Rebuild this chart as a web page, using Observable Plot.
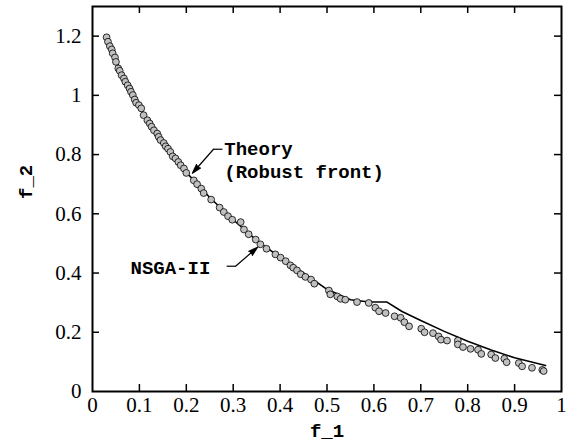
<!DOCTYPE html>
<html><head><meta charset="utf-8">
<script src="https://cdn.jsdelivr.net/npm/d3@7"></script>
<script src="https://cdn.jsdelivr.net/npm/@observablehq/plot@0.6"></script>
<style>body{margin:0;background:#fff}</style>
</head><body><div id="chart"></div>
<script>
// NSGA-II solutions
const nsgaX = [0.030,0.033,0.037,0.041,0.043,0.048,0.050,0.055,0.058,0.062,0.067,0.070,0.075,0.079,0.082,0.086,0.090,0.093,0.099,0.104,0.109,0.117,0.122,0.126,0.131,0.138,0.141,0.145,0.152,0.156,0.161,0.166,0.171,0.177,0.183,0.188,0.195,0.200,0.216,0.223,0.232,0.237,0.253,0.271,0.280,0.289,0.298,0.316,0.323,0.333,0.348,0.358,0.371,0.390,0.401,0.412,0.422,0.428,0.436,0.444,0.454,0.466,0.473,0.504,0.507,0.522,0.529,0.539,0.564,0.589,0.603,0.611,0.625,0.644,0.657,0.665,0.675,0.701,0.708,0.726,0.738,0.743,0.756,0.779,0.779,0.790,0.806,0.822,0.829,0.850,0.859,0.878,0.883,0.909,0.916,0.937,0.959,0.962];
const nsgaY = [1.196,1.181,1.166,1.155,1.142,1.128,1.113,1.091,1.083,1.068,1.057,1.046,1.034,1.023,1.012,1.001,0.986,0.975,0.967,0.956,0.933,0.916,0.905,0.894,0.882,0.871,0.860,0.849,0.839,0.828,0.820,0.809,0.794,0.787,0.775,0.764,0.753,0.738,0.713,0.700,0.685,0.670,0.648,0.621,0.606,0.592,0.580,0.572,0.547,0.531,0.513,0.497,0.482,0.463,0.452,0.440,0.426,0.418,0.409,0.396,0.387,0.378,0.364,0.341,0.328,0.321,0.313,0.310,0.302,0.299,0.283,0.271,0.265,0.254,0.249,0.234,0.220,0.212,0.200,0.197,0.186,0.175,0.172,0.172,0.159,0.150,0.144,0.141,0.127,0.125,0.113,0.111,0.099,0.096,0.085,0.080,0.073,0.069];
// Theory (robust front)
const theoryX = [0.030,0.050,0.075,0.100,0.150,0.200,0.250,0.300,0.350,0.400,0.450,0.500,0.550,0.590,0.628,0.660,0.700,0.750,0.800,0.850,0.900,0.966];
const theoryY = [1.200,1.120,1.035,0.962,0.842,0.740,0.655,0.580,0.510,0.453,0.400,0.345,0.310,0.302,0.302,0.270,0.240,0.203,0.170,0.140,0.114,0.088];
// Axis ticks
const xTicks = [0,0.1,0.2,0.3,0.4,0.5,0.6,0.7,0.8,0.9,1];
const yTicks = [0,0.2,0.4,0.6,0.8,1,1.2];

const nsga = nsgaX.map((x, i) => ({x, y: nsgaY[i]}));
const theory = theoryX.map((x, i) => ({x, y: theoryY[i]}));

const W = 568, H = 447, mT = 6, mB = 56, mL = 92, mR = 7;
const innerW = W - mL - mR, innerH = H - mT - mB, tl = 7;
const mono = "Liberation Mono";
const serif = "Liberation Serif";
const fmt = d => String(d);
const innerX = xTicks.filter(d => d > 0 && d < 1);
const innerY = yTicks.filter(d => d > 0);

const chart = Plot.plot({
  width: W, height: H,
  marginTop: mT, marginBottom: mB, marginLeft: mL, marginRight: mR,
  x: {domain: [0, 1]},
  y: {domain: [0, 1.3]},
  style: {fontFamily: serif, fontSize: "21px", color: "black", background: "white"},
  marks: [
    Plot.axisX(xTicks, {tickSize: 0, tickPadding: 6, tickFormat: fmt, label: null, fontSize: 21, fontFamily: serif}),
    Plot.axisY(yTicks, {tickSize: 0, tickPadding: 11, tickFormat: fmt, label: null, fontSize: 21, fontFamily: serif}),
    Plot.tickX(innerX, {x: d => d, insetTop: innerH - tl, strokeWidth: 1.5}),
    Plot.tickX(innerX, {x: d => d, insetBottom: innerH - tl, strokeWidth: 1.5}),
    Plot.tickY(innerY, {y: d => d, insetRight: innerW - tl, strokeWidth: 1.5}),
    Plot.tickY(innerY, {y: d => d, insetLeft: innerW - tl, strokeWidth: 1.5}),
    Plot.line(theory, {x: "x", y: "y", stroke: "black", strokeWidth: 1.6}),
    Plot.dot(nsga, {x: "x", y: "y", r: 3.4, fill: "#c0c0c0", stroke: "black", strokeWidth: 0.8}),
    Plot.frame({stroke: "black", strokeWidth: 2}),
    // annotations
    Plot.link([0], {x1: () => 0.277, y1: () => 0.818, x2: () => 0.258, y2: () => 0.818, stroke: "black", strokeWidth: 1.2}),
    Plot.arrow([0], {x1: () => 0.258, y1: () => 0.818, x2: () => 0.213, y2: () => 0.737, stroke: "black", fill: "black", strokeWidth: 1.2, headLength: 12, headAngle: 32}),
    Plot.text([0], {x: () => 0.281, y: () => 0.818, text: () => "Theory", textAnchor: "start", fontFamily: mono, fontWeight: "bold", fontSize: 19}),
    Plot.text([0], {x: () => 0.281, y: () => 0.740, text: () => "(Robust front)", textAnchor: "start", fontFamily: mono, fontWeight: "bold", fontSize: 19}),
    Plot.link([0], {x1: () => 0.286, y1: () => 0.423, x2: () => 0.305, y2: () => 0.423, stroke: "black", strokeWidth: 1.2}),
    Plot.arrow([0], {x1: () => 0.305, y1: () => 0.423, x2: () => 0.352, y2: () => 0.487, stroke: "black", fill: "black", strokeWidth: 1.2, headLength: 12, headAngle: 32}),
    Plot.text([0], {x: () => 0.081, y: () => 0.416, text: () => "NSGA-II", textAnchor: "start", fontFamily: mono, fontWeight: "bold", fontSize: 19}),
    // axis titles
    Plot.text([0], {frameAnchor: "bottom", dy: 45, text: () => "f_1", fontFamily: mono, fontWeight: "bold", fontSize: 19}),
    Plot.text([0], {frameAnchor: "left", dx: -67, rotate: -90, text: () => "f_2", fontFamily: mono, fontWeight: "bold", fontSize: 19})
  ]
});
document.getElementById("chart").appendChild(chart);
</script>
</body></html>
